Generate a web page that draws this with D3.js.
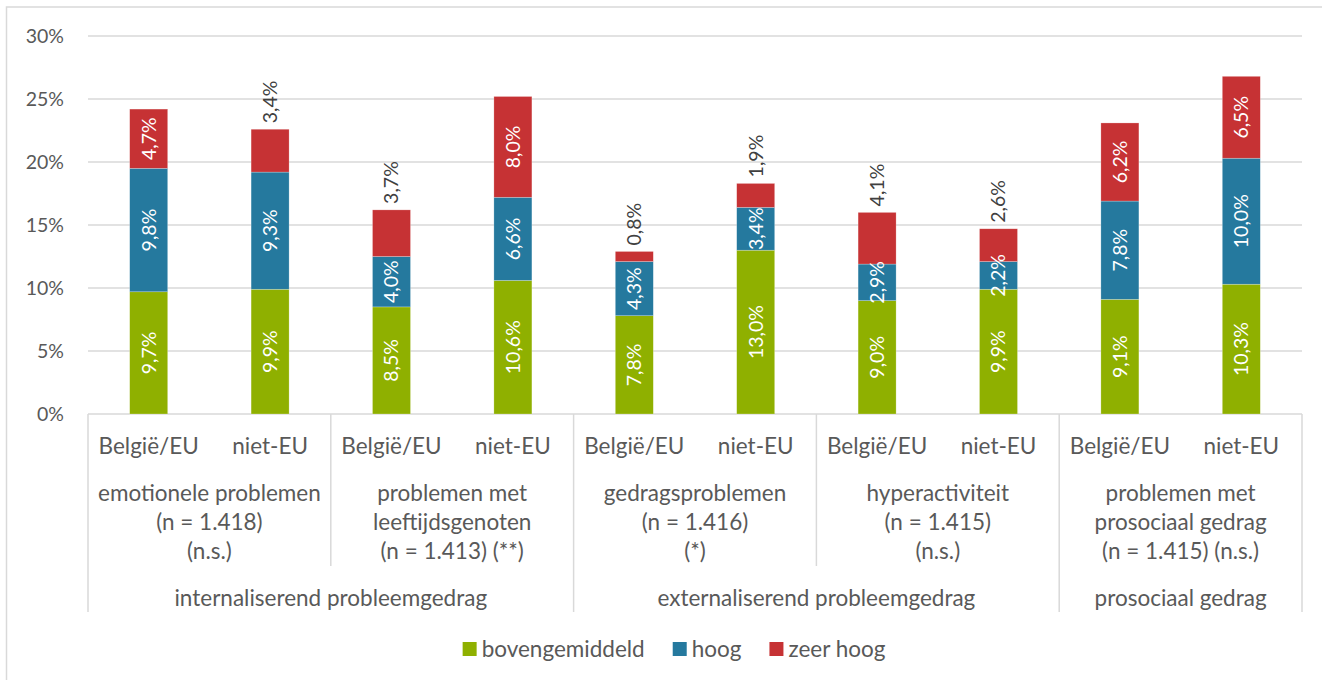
<!DOCTYPE html>
<html><head><meta charset="utf-8">
<script src="https://cdn.jsdelivr.net/npm/d3@7"></script>
<style>body{margin:0;background:#fff}svg{display:block}</style>
</head><body>
<svg id="c" width="1322" height="680"></svg>
<script>
// ---- data ----
const origins = ["België/EU","niet-EU","België/EU","niet-EU","België/EU","niet-EU","België/EU","niet-EU","België/EU","niet-EU"];
const subgroups = [
  ["emotionele problemen","(n = 1.418)","(n.s.)"],
  ["problemen met","leeftijdsgenoten","(n = 1.413) (**)"],
  ["gedragsproblemen","(n = 1.416)","(*)"],
  ["hyperactiviteit","(n = 1.415)","(n.s.)"],
  ["problemen met","prosociaal gedrag","(n = 1.415) (n.s.)"]
];
const groups = ["internaliserend probleemgedrag","externaliserend probleemgedrag","prosociaal gedrag"];
const groupSizes = [2,2,1]; // subgroups per group
const seriesNames = ["bovengemiddeld","hoog","zeer hoog"];
const bovengemiddeld = [9.7,9.9,8.5,10.6,7.8,13.0,9.0,9.9,9.1,10.3];
const hoog = [9.8,9.3,4.0,6.6,4.3,3.4,2.9,2.2,7.8,10.0];
const zeerHoog = [4.7,3.4,3.7,8.0,0.8,1.9,4.1,2.6,6.2,6.5];
const yTicks = [0,5,10,15,20,25,30];
const colors = ["#8fb000","#25799e","#c63234"];

// ---- layout ----
const FONT = "Lato, 'Open Sans', sans-serif";
const AXFS = 22.5;
const TXT = "#595959";
const GRID = "#d9d9d9";
const svg = d3.select("#c");
const pLeft = 88, pRight = 1302, pTop = 36, pBase = 414;

const idx = d3.range(origins.length);
const x = d3.scaleBand().domain(idx).range([pLeft, pRight]).paddingInner(0.687).paddingOuter(0.3435);
const y = d3.scaleLinear().domain([0, 30]).range([pBase, pTop]);

// frame
svg.append("rect").attr("x", 6.5).attr("y", 7).attr("width", 1400).attr("height", 800)
  .attr("fill", "none").attr("stroke", GRID).attr("stroke-width", 1.5);

// gridlines
svg.append("g").selectAll("line").data(yTicks).join("line")
  .attr("x1", pLeft).attr("x2", pRight).attr("y1", d => y(d)).attr("y2", d => y(d))
  .attr("stroke", GRID).attr("stroke-width", 1.5);

// y axis labels
const yAxis = d3.axisLeft(y).tickValues(yTicks).tickFormat(d => d + "%").tickSize(0).tickPadding(0);
const ya = svg.append("g").attr("transform", `translate(64,0)`).call(yAxis);
ya.select(".domain").remove();
ya.selectAll("text").attr("font-family", FONT).attr("font-size", 19.5).attr("fill", TXT).attr("dy", "0.35em");

// stacked bars
const rows = idx.map(i => ({i, bovengemiddeld: bovengemiddeld[i], hoog: hoog[i], "zeer hoog": zeerHoog[i]}));
const stack = d3.stack().keys(seriesNames)(rows);
const fmt = v => d3.format(".1f")(v).replace(".", ",") + "%";

stack.forEach((layer, li) => {
  const g = svg.append("g");
  g.selectAll("rect").data(layer).join("rect")
    .attr("x", d => x(d.data.i)).attr("width", x.bandwidth())
    .attr("y", d => y(d[1])).attr("height", d => y(d[0]) - y(d[1]))
    .attr("fill", colors[li]).attr("stroke", "#ffffff").attr("stroke-opacity", 0.4).attr("stroke-width", 0.6);
});

stack.forEach((layer, li) => {
  const g = svg.append("g");
  layer.forEach(d => {
    const v = d.data[seriesNames[li]];
    const cx = x(d.data.i) + x.bandwidth() / 2;
    const t = g.append("text").text(fmt(v))
      .attr("font-family", FONT).attr("font-size", 19.5).attr("text-anchor", "middle");
    const len = t.node().getComputedTextLength();
    const segH = y(d[0]) - y(d[1]);
    if (li === 2 && segH < len + 14) {
      t.attr("text-anchor", "start").attr("fill", "#404040")
       .attr("transform", `translate(${cx},${y(d[1]) - 6}) rotate(-90)`).attr("dy", "0.35em");
    } else {
      t.attr("fill", "#ffffff")
       .attr("transform", `translate(${cx},${(y(d[0]) + y(d[1])) / 2}) rotate(-90)`).attr("dy", "0.35em");
    }
  });
});

// category axis (multi-level)
const step = x.step();
const subW = step * 2;
const ax = svg.append("g");
ax.selectAll("text.o").data(idx).join("text")
  .attr("x", i => x(i) + x.bandwidth() / 2).attr("y", 446).attr("dy", "0.35em")
  .attr("text-anchor", "middle").attr("font-family", FONT).attr("font-size", AXFS).attr("fill", TXT)
  .text(i => origins[i]);
subgroups.forEach((lines, s) => {
  const cx = pLeft + subW * s + subW / 2;
  lines.forEach((ln, k) => {
    ax.append("text").attr("x", cx).attr("y", 493 + k * 29).attr("dy", "0.35em")
      .attr("text-anchor", "middle").attr("font-family", FONT).attr("font-size", AXFS).attr("fill", TXT).text(ln);
  });
});
let acc = 0;
const groupEdges = [0];
groups.forEach((gname, gi) => {
  const x0 = pLeft + subW * acc;
  acc += groupSizes[gi];
  const x1 = pLeft + subW * acc;
  groupEdges.push(acc);
  ax.append("text").attr("x", (x0 + x1) / 2).attr("y", 598).attr("dy", "0.35em")
    .attr("text-anchor", "middle").attr("font-family", FONT).attr("font-size", AXFS).attr("fill", TXT).text(gname);
});
d3.range(subgroups.length + 1).forEach(s => {
  const xx = pLeft + subW * s;
  const isGroup = groupEdges.includes(s);
  ax.append("line").attr("x1", xx).attr("x2", xx).attr("y1", pBase).attr("y2", isGroup ? 612 : 566)
    .attr("stroke", GRID).attr("stroke-width", 1.5);
});

// legend
const lg = svg.append("g");
let lx = 0;
seriesNames.forEach((n, k) => {
  const g = lg.append("g");
  g.append("rect").attr("x", lx).attr("y", 642).attr("width", 14).attr("height", 14).attr("fill", colors[k]);
  const t = g.append("text").attr("x", lx + 19).attr("y", 649).attr("dy", "0.35em")
    .attr("font-family", FONT).attr("font-size", AXFS).attr("fill", TXT).text(n);
  lx += 19 + t.node().getComputedTextLength() + 28;
});
const totalW = lx - 28;
lg.attr("transform", `translate(${674 - totalW / 2},0)`);
</script>
</body></html>
